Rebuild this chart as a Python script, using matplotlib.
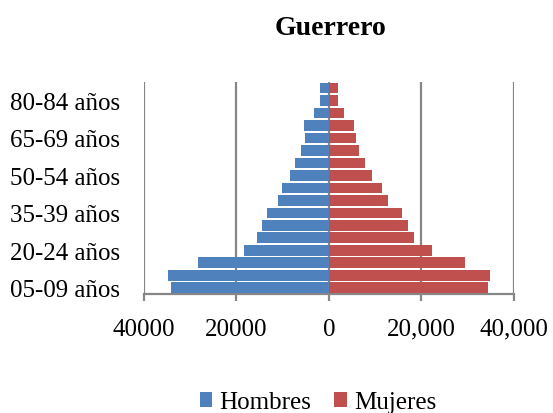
import matplotlib
matplotlib.use("Agg")
import matplotlib.pyplot as plt
from matplotlib.ticker import FixedLocator

age_groups = ["05-09 años", "10-14 años", "15-19 años", "20-24 años", "25-29 años",
              "30-34 años", "35-39 años", "40-44 años", "45-49 años", "50-54 años",
              "55-59 años", "60-64 años", "65-69 años", "70-74 años", "75-79 años",
              "80-84 años", "85-89 años"]
hombres = [34200, 34850, 28200, 18300, 15600, 14450, 13250, 10900, 10100, 8300,
           7400, 5950, 5050, 5350, 3250, 2000, 1850]
mujeres = [34350, 34800, 29550, 22250, 18350, 17200, 15750, 12750, 11550, 9350,
           7750, 6500, 5800, 5500, 3350, 2100, 1950]
xticks = [-40000, -20000, 0, 20000, 40000]
xticklabels = ["40000", "20000", "0", "20,000", "40,000"]

plt.rcParams['font.family'] = ['Liberation Serif', 'DejaVu Serif']

fig = plt.figure(figsize=(5.53, 4.14), dpi=100)
ax = fig.add_axes([0.260, 0.2874, 0.669, 0.513])

y = list(range(len(age_groups)))
ax.barh(y, [-v for v in hombres], height=0.85, color="#4F81BD", label="Hombres", zorder=3)
ax.barh(y, mujeres, height=0.85, color="#C0504D", label="Mujeres", zorder=3)

ax.set_xlim(-40000, 40000)
ax.set_ylim(-0.5, len(age_groups) - 0.5)
ax.xaxis.set_major_locator(FixedLocator(xticks))
ax.set_xticklabels(xticklabels)
ax.set_yticks(y[0::3])
ax.set_yticklabels(age_groups[0::3])

ax.grid(axis="x", color="#868686", linewidth=1.6, zorder=0)
for s in ["top", "right", "left"]:
    ax.spines[s].set_visible(False)
ax.spines["bottom"].set_color("#868686")
ax.spines["bottom"].set_linewidth(1.6)
ax.tick_params(axis="x", direction="out", length=5, width=1.6, color="#868686",
               labelsize=18, pad=12)
ax.tick_params(axis="y", length=0, labelsize=18, pad=17)

fig.text(0.597, 0.932, "Guerrero", ha="center", va="center", fontsize=20, fontweight="bold")

fig.legend(loc="lower center", bbox_to_anchor=(0.575, -0.055), ncol=2, frameon=False,
           fontsize=18, handlelength=0.5, handleheight=0.5, handletextpad=0.3,
           columnspacing=0.9)

fig.savefig("out.png", dpi=100)
